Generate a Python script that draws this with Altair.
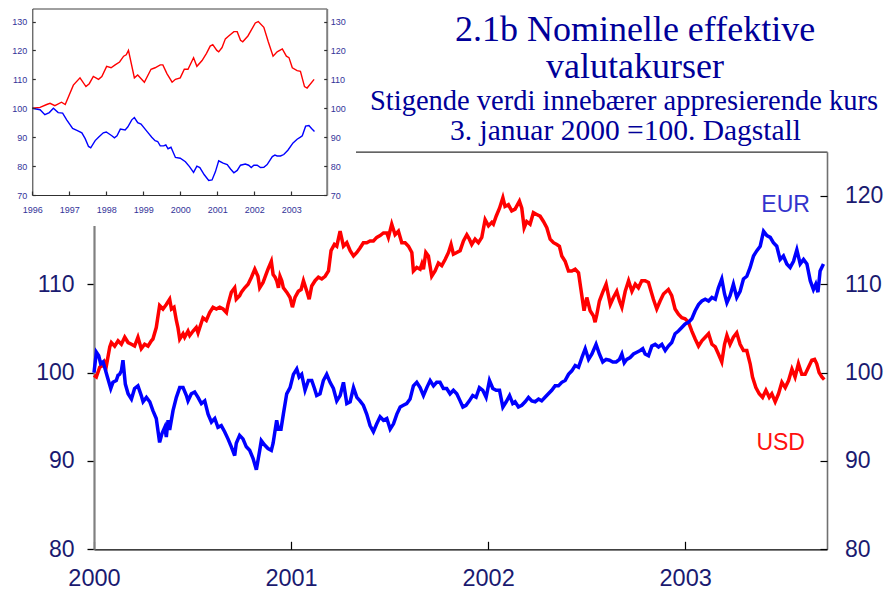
import altair as alt
import pandas as pd

# ---------------- data ----------------
# Main panel, daily index 3 Jan 2000 = 100 (x = decimal year)
usd_years = [
    2000.000, 2000.012, 2000.029, 2000.046, 2000.054, 2000.063, 2000.080, 2000.088, 2000.105, 2000.122,
    2000.139, 2000.156, 2000.173, 2000.190, 2000.206, 2000.223, 2000.240, 2000.257, 2000.274, 2000.291,
    2000.299, 2000.316, 2000.333, 2000.350, 2000.367, 2000.384, 2000.393, 2000.406, 2000.418, 2000.426,
    2000.435, 2000.452, 2000.460, 2000.477, 2000.486, 2000.503, 2000.519, 2000.528, 2000.553, 2000.570,
    2000.587, 2000.604, 2000.621, 2000.638, 2000.655, 2000.672, 2000.680, 2000.697, 2000.714, 2000.722,
    2000.739, 2000.748, 2000.765, 2000.782, 2000.799, 2000.816, 2000.832, 2000.841, 2000.858, 2000.883,
    2000.900, 2000.909, 2000.919, 2000.927, 2000.936, 2000.944, 2000.953, 2000.961, 2000.978, 2000.995,
    2001.007, 2001.020, 2001.037, 2001.051, 2001.063, 2001.080, 2001.092, 2001.105, 2001.122, 2001.139,
    2001.156, 2001.173, 2001.190, 2001.203, 2001.220, 2001.232, 2001.249, 2001.266, 2001.283, 2001.300,
    2001.317, 2001.334, 2001.350, 2001.367, 2001.384, 2001.401, 2001.418, 2001.435, 2001.452, 2001.469,
    2001.486, 2001.494, 2001.511, 2001.528, 2001.545, 2001.562, 2001.579, 2001.596, 2001.613, 2001.621,
    2001.638, 2001.655, 2001.664, 2001.672, 2001.684, 2001.697, 2001.714, 2001.731, 2001.748, 2001.765,
    2001.782, 2001.799, 2001.812, 2001.824, 2001.841, 2001.858, 2001.875, 2001.892, 2001.905, 2001.917,
    2001.934, 2001.951, 2001.968, 2001.985, 2002.002, 2002.019, 2002.027, 2002.041, 2002.058, 2002.075,
    2002.086, 2002.103, 2002.120, 2002.137, 2002.159, 2002.171, 2002.183, 2002.196, 2002.213, 2002.230,
    2002.247, 2002.264, 2002.281, 2002.298, 2002.315, 2002.332, 2002.349, 2002.362, 2002.374, 2002.391,
    2002.408, 2002.425, 2002.442, 2002.459, 2002.470, 2002.487, 2002.501, 2002.518, 2002.535, 2002.543,
    2002.552, 2002.565, 2002.582, 2002.599, 2002.611, 2002.620, 2002.636, 2002.653, 2002.667, 2002.679,
    2002.696, 2002.713, 2002.730, 2002.747, 2002.763, 2002.780, 2002.797, 2002.814, 2002.827, 2002.839,
    2002.856, 2002.873, 2002.890, 2002.915, 2002.932, 2002.949, 2002.966, 2002.983, 2003.000, 2003.017,
    2003.034, 2003.051, 2003.068, 2003.085, 2003.102, 2003.119, 2003.136, 2003.153, 2003.169, 2003.186,
    2003.200, 2003.212, 2003.228, 2003.245, 2003.262, 2003.279, 2003.296, 2003.313, 2003.330, 2003.342,
    2003.359, 2003.376, 2003.393, 2003.410, 2003.427, 2003.440, 2003.457, 2003.474, 2003.491, 2003.508,
    2003.525, 2003.542, 2003.558, 2003.575, 2003.592, 2003.609, 2003.626, 2003.643, 2003.657, 2003.668,
    2003.680, 2003.694, 2003.706,
]
usd_values = [
    99.7, 99.5, 100.6, 100.8, 101.2, 100.8, 102.9, 103.4, 103.0, 103.6,
    103.2, 104.0, 103.4, 103.2, 103.0, 104.0, 102.7, 103.2, 103.0, 103.6,
    103.8, 105.1, 107.6, 107.2, 107.7, 108.3, 107.2, 107.4, 105.9, 105.1,
    103.8, 104.4, 104.0, 104.7, 104.2, 104.7, 105.1, 104.5, 106.2, 105.9,
    106.8, 107.4, 107.2, 107.4, 107.2, 106.8, 107.7, 109.1, 109.6, 108.3,
    108.7, 109.1, 109.6, 110.0, 110.8, 111.7, 110.9, 109.6, 110.2, 111.7,
    112.6, 111.1, 110.8, 110.4, 109.6, 110.9, 110.4, 109.6, 109.1, 108.5,
    107.4, 108.5, 109.2, 109.4, 110.4, 109.2, 108.3, 109.8, 110.4, 110.8,
    110.6, 110.9, 111.5, 113.8, 114.5, 114.3, 116.0, 114.3, 114.7, 113.8,
    113.2, 113.6, 114.1, 114.7, 114.7, 114.9, 114.9, 115.3, 115.5, 115.8,
    115.8, 115.3, 116.8, 115.6, 116.0, 114.7, 114.7, 114.3, 113.6, 111.5,
    111.9, 111.7, 112.3, 111.7, 113.6, 113.2, 110.9, 111.5, 112.4, 112.1,
    112.8, 113.6, 114.5, 113.4, 113.6, 113.8, 114.9, 115.6, 115.1, 114.5,
    115.1, 114.7, 115.3, 117.3, 116.6, 117.0, 116.8, 117.7, 118.6, 119.8,
    118.8, 119.0, 118.3, 118.5, 119.4, 118.6, 116.4, 117.1, 116.8, 118.1,
    117.9, 117.7, 117.1, 116.4, 115.1, 114.7, 114.5, 114.3, 113.2, 112.6,
    111.5, 111.5, 111.7, 111.3, 109.6, 107.0, 108.5, 107.0, 106.4, 105.7,
    106.6, 108.1, 109.1, 110.0, 108.7, 107.7, 108.5, 109.2, 108.1, 107.4,
    109.2, 110.4, 109.2, 110.0, 109.6, 110.4, 110.4, 110.2, 109.2, 108.3,
    107.2, 108.1, 108.9, 109.4, 108.7, 107.2, 106.6, 106.2, 106.1, 105.7,
    104.7, 103.8, 103.0, 103.6, 104.0, 104.4, 103.2, 102.9, 102.1, 101.2,
    103.2, 104.2, 103.2, 104.0, 104.5, 103.2, 102.5, 102.5, 101.0, 99.5,
    98.3, 97.6, 97.2, 98.0, 97.2, 97.6, 96.7, 97.6, 98.9, 98.3,
    99.1, 100.4, 99.5, 101.0, 99.8, 99.8, 100.6, 101.4, 101.5, 101.0,
    100.0, 99.5, 99.2,
]
eur_years = [
    2000.000, 2000.012, 2000.024, 2000.034, 2000.046, 2000.054, 2000.068, 2000.085, 2000.096, 2000.113,
    2000.122, 2000.130, 2000.139, 2000.147, 2000.159, 2000.173, 2000.190, 2000.206, 2000.223, 2000.240,
    2000.249, 2000.266, 2000.283, 2000.299, 2000.316, 2000.333, 2000.345, 2000.359, 2000.367, 2000.376,
    2000.384, 2000.401, 2000.418, 2000.435, 2000.452, 2000.469, 2000.477, 2000.494, 2000.511, 2000.528,
    2000.545, 2000.562, 2000.579, 2000.596, 2000.613, 2000.629, 2000.646, 2000.663, 2000.680, 2000.697,
    2000.714, 2000.722, 2000.739, 2000.756, 2000.773, 2000.790, 2000.807, 2000.824, 2000.841, 2000.849,
    2000.866, 2000.883, 2000.900, 2000.909, 2000.927, 2000.936, 2000.949, 2000.961, 2000.978, 2000.995,
    2001.012, 2001.029, 2001.041, 2001.054, 2001.071, 2001.088, 2001.105, 2001.119, 2001.130, 2001.147,
    2001.164, 2001.181, 2001.198, 2001.215, 2001.232, 2001.249, 2001.266, 2001.283, 2001.300, 2001.317,
    2001.334, 2001.350, 2001.367, 2001.384, 2001.401, 2001.418, 2001.435, 2001.452, 2001.469, 2001.486,
    2001.503, 2001.520, 2001.537, 2001.554, 2001.570, 2001.587, 2001.604, 2001.621, 2001.638, 2001.655,
    2001.672, 2001.689, 2001.706, 2001.723, 2001.739, 2001.756, 2001.773, 2001.790, 2001.807, 2001.824,
    2001.841, 2001.858, 2001.872, 2001.888, 2001.905, 2001.922, 2001.939, 2001.956, 2001.973, 2001.990,
    2002.007, 2002.024, 2002.041, 2002.058, 2002.075, 2002.092, 2002.109, 2002.125, 2002.137, 2002.154,
    2002.171, 2002.188, 2002.205, 2002.222, 2002.239, 2002.256, 2002.272, 2002.289, 2002.306, 2002.323,
    2002.340, 2002.357, 2002.374, 2002.391, 2002.408, 2002.425, 2002.442, 2002.459, 2002.476, 2002.493,
    2002.510, 2002.527, 2002.548, 2002.565, 2002.582, 2002.599, 2002.616, 2002.633, 2002.650, 2002.667,
    2002.679, 2002.691, 2002.704, 2002.721, 2002.738, 2002.755, 2002.772, 2002.785, 2002.797, 2002.814,
    2002.831, 2002.848, 2002.865, 2002.882, 2002.899, 2002.915, 2002.932, 2002.949, 2002.966, 2002.983,
    2003.000, 2003.017, 2003.034, 2003.051, 2003.068, 2003.085, 2003.102, 2003.119, 2003.136, 2003.153,
    2003.169, 2003.186, 2003.200, 2003.212, 2003.228, 2003.245, 2003.262, 2003.279, 2003.296, 2003.313,
    2003.330, 2003.347, 2003.364, 2003.381, 2003.398, 2003.415, 2003.432, 2003.448, 2003.465, 2003.482,
    2003.499, 2003.516, 2003.533, 2003.550, 2003.567, 2003.584, 2003.601, 2003.618, 2003.635, 2003.651,
    2003.663, 2003.674, 2003.685, 2003.702,
]
eur_values = [
    100.0, 102.3, 101.9, 101.0, 101.2, 100.6, 99.5, 98.2, 98.9, 99.1,
    99.7, 99.8, 100.2, 101.4, 98.7, 97.6, 97.0, 98.2, 98.5, 97.4,
    96.7, 97.2, 96.7, 95.7, 94.8, 92.1, 93.1, 93.8, 92.7, 94.6,
    93.5, 95.7, 97.2, 98.3, 98.3, 97.4, 96.8, 97.6, 97.8, 97.2,
    96.5, 96.8, 95.3, 94.4, 94.8, 93.8, 94.0, 93.3, 92.5, 91.6,
    90.6, 92.0, 92.9, 92.5, 91.6, 91.2, 90.3, 89.0, 91.2, 92.3,
    91.8, 91.4, 91.2, 92.0, 94.6, 93.6, 93.6, 95.3, 97.6, 98.3,
    99.8, 100.4, 99.5, 99.8, 98.0, 99.1, 99.1, 98.2, 97.4, 97.6,
    99.1, 99.8, 98.9, 98.2, 96.8, 97.4, 98.9, 96.5, 96.7, 98.3,
    97.2, 96.8, 96.3, 95.3, 94.0, 93.3, 94.2, 95.0, 94.6, 94.8,
    93.6, 94.2, 95.3, 96.1, 96.3, 96.5, 97.0, 98.5, 98.9, 98.3,
    97.4, 98.3, 99.1, 98.5, 98.9, 98.9, 98.2, 98.2, 97.6, 98.0,
    97.6, 96.8, 96.1, 96.3, 96.8, 97.4, 97.2, 98.3, 98.0, 97.2,
    99.1, 98.2, 98.0, 98.0, 96.1, 96.7, 97.4, 96.5, 96.7, 96.1,
    96.3, 96.7, 97.2, 96.8, 96.7, 97.0, 96.8, 97.2, 97.6, 98.0,
    98.5, 98.5, 98.9, 99.1, 99.8, 100.2, 100.8, 100.6, 101.7, 102.7,
    101.5, 102.1, 103.2, 102.1, 101.2, 101.5, 101.4, 101.2, 101.2, 101.5,
    102.1, 101.1, 101.5, 101.7, 102.1, 102.3, 102.5, 102.7, 102.1, 101.9,
    103.0, 103.2, 102.9, 103.2, 102.5, 103.0, 103.4, 104.4, 104.7, 105.1,
    105.5, 105.7, 106.1, 107.0, 107.7, 108.1, 108.3, 108.1, 108.5, 108.3,
    109.6, 110.6, 108.9, 107.9, 108.7, 110.0, 108.5, 109.2, 110.6, 110.9,
    111.9, 113.2, 113.8, 114.3, 116.0, 115.5, 115.3, 114.7, 114.3, 112.8,
    113.2, 112.3, 111.9, 112.6, 113.9, 112.3, 112.8, 112.3, 110.4, 109.4,
    110.0, 109.1, 111.5, 112.3,
]

# Inset panel, 1996 = 100
inset_usd_years = [
    1996.00, 1996.21, 1996.39, 1996.48, 1996.61, 1996.79, 1996.89, 1997.11, 1997.29, 1997.45,
    1997.54, 1997.65, 1997.79, 1997.88, 1998.01, 1998.13, 1998.24, 1998.36, 1998.47, 1998.54,
    1998.60, 1998.76, 1998.85, 1999.03, 1999.21, 1999.32, 1999.46, 1999.53, 1999.64, 1999.78,
    1999.87, 2000.00, 2000.11, 2000.21, 2000.36, 2000.45, 2000.59, 2000.71, 2000.81, 2000.88,
    2000.99, 2001.04, 2001.13, 2001.22, 2001.31, 2001.45, 2001.54, 2001.63, 2001.69, 2001.83,
    2001.92, 2002.03, 2002.11, 2002.26, 2002.38, 2002.51, 2002.62, 2002.76, 2002.87, 2002.94,
    2003.03, 2003.16, 2003.25, 2003.36, 2003.43, 2003.62,
]
inset_usd_values = [
    100.0, 100.3, 101.3, 101.7, 100.9, 102.1, 101.3, 108.0, 110.5, 107.5,
    108.5, 111.0, 110.0, 111.0, 114.5, 114.0, 115.0, 116.0, 118.0, 118.5,
    120.0, 110.5, 111.5, 109.0, 113.5, 114.0, 115.0, 115.0, 112.0, 109.0,
    110.0, 110.5, 113.5, 113.5, 117.5, 114.5, 116.5, 119.0, 121.5, 122.0,
    120.0, 119.5, 121.0, 124.0, 125.0, 126.5, 126.5, 123.5, 123.0, 125.0,
    127.0, 129.5, 130.0, 128.0, 123.0, 118.0, 119.5, 120.5, 118.0, 117.5,
    114.0, 113.0, 112.8, 107.5, 107.0, 110.0,
]
inset_eur_years = [
    1996.00, 1996.21, 1996.34, 1996.46, 1996.57, 1996.70, 1996.82, 1996.93, 1997.09, 1997.22,
    1997.34, 1997.43, 1997.52, 1997.58, 1997.70, 1997.79, 1997.92, 1998.00, 1998.15, 1998.22,
    1998.29, 1998.38, 1998.51, 1998.58, 1998.69, 1998.76, 1998.85, 1998.94, 1999.10, 1999.23,
    1999.32, 1999.39, 1999.46, 1999.55, 1999.61, 1999.67, 1999.75, 1999.87, 2000.00, 2000.14,
    2000.25, 2000.36, 2000.45, 2000.53, 2000.65, 2000.77, 2000.86, 2000.95, 2001.04, 2001.16,
    2001.27, 2001.36, 2001.45, 2001.54, 2001.63, 2001.76, 2001.85, 2001.92, 2001.99, 2002.08,
    2002.17, 2002.26, 2002.35, 2002.49, 2002.56, 2002.62, 2002.71, 2002.80, 2002.91, 2003.05,
    2003.16, 2003.25, 2003.30, 2003.39, 2003.48, 2003.55, 2003.63,
]
inset_eur_values = [
    100.0, 99.5, 97.8, 98.5, 100.0, 98.5, 98.3, 96.0, 93.0, 92.3,
    91.5, 89.5, 86.8, 86.3, 88.8, 90.0, 91.5, 91.8, 90.5, 89.8,
    90.5, 92.8, 92.5, 93.5, 96.0, 96.8, 95.0, 94.5, 92.0, 90.0,
    88.8, 88.5, 87.0, 87.0, 87.3, 86.0, 86.5, 83.0, 82.7, 81.5,
    79.8, 77.8, 80.0, 79.5, 77.0, 75.0, 75.2, 78.0, 81.8, 81.0,
    80.5, 79.0, 77.7, 78.5, 80.3, 80.7, 80.3, 79.5, 80.3, 80.3,
    79.5, 79.6, 80.5, 83.3, 83.8, 83.5, 83.5, 84.0, 85.5, 88.0,
    89.3, 90.0, 90.5, 93.8, 94.0, 93.0, 92.0,
]

main_x_ticks = [2000, 2001, 2002, 2003]
main_y_ticks = [80, 90, 100, 110, 120]
main_left_labels = [80, 90, 100, 110]   # 120 on the left is hidden under the inset
inset_x_ticks = [1996, 1997, 1998, 1999, 2000, 2001, 2002, 2003]
inset_y_ticks = [70, 80, 90, 100, 110, 120, 130]

title_lines = ["2.1b Nominelle effektive", "valutakurser"]
subtitle_line1 = "Stigende verdi innebærer appresierende kurs"
subtitle_line2 = "3. januar 2000 =100. Dagstall"

label_names = ["EUR", "USD"]
label_years = [2003.51, 2003.485]
label_values = [119.0, 92.0]

series_names = ["USD", "EUR"]
series_colors = ["#ff0000", "#0000ff"]
label_colors = ["#3333cc", "#ff1010"]

assert len(usd_years) == len(usd_values)
assert len(eur_years) == len(eur_values)
assert len(inset_usd_years) == len(inset_usd_values)
assert len(inset_eur_years) == len(inset_eur_values)

main_df = pd.concat([
    pd.DataFrame({"year": usd_years, "value": usd_values, "series": "USD"}),
    pd.DataFrame({"year": eur_years, "value": eur_values, "series": "EUR"}),
], ignore_index=True)
inset_df = pd.concat([
    pd.DataFrame({"year": inset_usd_years, "value": inset_usd_values, "series": "USD"}),
    pd.DataFrame({"year": inset_eur_years, "value": inset_eur_values, "series": "EUR"}),
], ignore_index=True)
labels_df = pd.DataFrame({"series": label_names, "year": label_years, "value": label_values})
one_row = pd.DataFrame({"k": [0]})

# ---------------- layout ----------------
W, H = 876, 582
SANS = "Liberation Sans"
SERIF = "Liberation Serif"
NAVY = "#1a1a70"
INSET_TXT = "#333399"
TITLE = "#000099"

# main panel geometry (plot coordinates)
MX0, MX1 = 86, 819
MY0, MY1 = 541.3, 143.7
# inset geometry
IX0, IX1 = 24.3, 318.7
IY0, IY1 = 187, 0.5

MX = alt.Scale(domain=[2000, 2003.72], range=[MX0, MX1], nice=False, zero=False)
MY = alt.Scale(domain=[80, 125], range=[MY0, MY1], nice=False, zero=False)
IX = alt.Scale(domain=[1996, 2003.96], range=[IX0, IX1], nice=False, zero=False)
IY = alt.Scale(domain=[70, 134.5], range=[IY0, IY1], nice=False, zero=False)
line_color = alt.Color("series:N", scale=alt.Scale(domain=series_names, range=series_colors), legend=None)


def axis(**kw):
    base = dict(title=None, grid=False, labelFlush=False, labelOverlap=False, labelFont=SANS)
    base.update(kw)
    return alt.Axis(**base)


def ticks_only(orient, offset, values, size, z=0, color="#000000"):
    return axis(orient=orient, offset=offset, values=values, labels=False, domain=False,
                ticks=True, tickSize=size, tickColor=color, tickWidth=1.2, zindex=z)


def domain_only(orient, offset, color, width, z=0):
    return axis(orient=orient, offset=offset, labels=False, ticks=False, tickSize=0,
                domain=True, domainColor=color, domainWidth=width, zindex=z)


# main lines with bottom x axis and left y axis
main_lines = alt.Chart(main_df).mark_line(strokeWidth=3.5).encode(
    x=alt.X("year:Q", scale=MX, axis=axis(
        orient="bottom", offset=MY0 - H, values=main_x_ticks, format="d",
        ticks=False, tickSize=0, domain=True, domainColor="#000000", domainWidth=1.3,
        labelFontSize=23.5, labelColor=NAVY, labelPadding=17)),
    y=alt.Y("value:Q", scale=MY, axis=axis(
        orient="left", offset=-MX0, values=main_left_labels, ticks=True, tickSize=7,
        tickColor="#000000", tickWidth=1.3, domain=True, domainColor="#808080", domainWidth=2.2,
        labelFontSize=23, labelColor=NAVY, labelPadding=13)),
    color=line_color,
)

# invisible: inward x ticks + right y axis with labels
main_aux1 = alt.Chart(main_df).mark_point(opacity=0).encode(
    x=alt.X("year:Q", scale=MX, axis=ticks_only("top", -MY0, main_x_ticks, 8)),
    y=alt.Y("value:Q", scale=MY, axis=axis(
        orient="right", offset=MX1 - W, values=main_y_ticks, ticks=False, tickSize=0,
        domain=True, domainColor="#707070", domainWidth=1.6,
        labelFontSize=23, labelColor=NAVY, labelPadding=17.5)),
)

# invisible: top frame line + inward ticks on right axis
main_aux2 = alt.Chart(main_df).mark_point(opacity=0).encode(
    x=alt.X("year:Q", scale=MX, axis=domain_only("top", -MY1, "#303030", 1.3)),
    y=alt.Y("value:Q", scale=MY, axis=ticks_only("left", -MX1, main_y_ticks, 7)),
)

# series labels
series_text = alt.Chart(labels_df).mark_text(font=SANS, fontSize=23, align="center",
                                             baseline="middle").encode(
    x=alt.X("year:Q", scale=MX, axis=None),
    y=alt.Y("value:Q", scale=MY, axis=None),
    text="series:N",
    color=alt.Color("series:N", scale=alt.Scale(domain=label_names, range=label_colors), legend=None),
)

# white backing of the inset
inset_bg = alt.Chart(one_row).mark_rect(color="white").encode(
    x=alt.value(-8), x2=alt.value(348), y=alt.value(-8), y2=alt.value(218)
)

# inset lines with bottom x axis and left y axis
inset_lines = alt.Chart(inset_df).mark_line(strokeWidth=1.4).encode(
    x=alt.X("year:Q", scale=IX, axis=axis(
        orient="bottom", offset=IY0 - H, values=inset_x_ticks, format="d",
        ticks=False, tickSize=0, domain=True, domainColor="#303030", domainWidth=1,
        labelFontSize=9, labelColor=INSET_TXT, labelPadding=10.5, zindex=1)),
    y=alt.Y("value:Q", scale=IY, axis=axis(
        orient="left", offset=-IX0, values=inset_y_ticks, ticks=False, tickSize=0,
        domain=True, domainColor="#303030", domainWidth=1,
        labelFontSize=9, labelColor=INSET_TXT, labelPadding=5.5, zindex=1)),
    color=line_color,
)

inset_aux1 = alt.Chart(inset_df).mark_point(opacity=0).encode(
    x=alt.X("year:Q", scale=IX, axis=ticks_only("top", -IY0, inset_x_ticks, 4, z=1, color="#303030")),
    y=alt.Y("value:Q", scale=IY, axis=axis(
        orient="right", offset=IX1 - W, values=inset_y_ticks, ticks=False, tickSize=0,
        domain=True, domainColor="#808080", domainWidth=2,
        labelFontSize=9, labelColor=INSET_TXT, labelPadding=3.5, zindex=1)),
)

inset_aux2 = alt.Chart(inset_df).mark_point(opacity=0).encode(
    x=alt.X("year:Q", scale=IX, axis=domain_only("top", -IY1, "#404040", 1, z=1)),
    y=alt.Y("value:Q", scale=IY, axis=ticks_only("right", IX0 - W, inset_y_ticks, 3, z=1, color="#303030")),
)

inset_aux3 = alt.Chart(inset_df).mark_point(opacity=0).encode(
    x=alt.X("year:Q", scale=IX, axis=None),
    y=alt.Y("value:Q", scale=IY, axis=ticks_only("left", -IX1, inset_y_ticks, 3, z=1, color="#303030")),
)

# titles
title_text = alt.Chart(one_row).mark_text(
    font=SERIF, fontSize=36, color=TITLE, align="center", baseline="alphabetic", lineHeight=37
).encode(x=alt.value(627), y=alt.value(32.5), text=alt.value(title_lines))

subtitle_text1 = alt.Chart(one_row).mark_text(
    font=SERIF, fontSize=28.5, color=TITLE, align="center", baseline="alphabetic"
).encode(x=alt.value(616), y=alt.value(102), text=alt.value(subtitle_line1))

subtitle_text2 = alt.Chart(one_row).mark_text(
    font=SERIF, fontSize=29.5, color=TITLE, align="center", baseline="alphabetic"
).encode(x=alt.value(617.5), y=alt.value(132), text=alt.value(subtitle_line2))

chart = alt.layer(
    main_lines, main_aux1, main_aux2, series_text,
    inset_bg, inset_lines, inset_aux1, inset_aux2, inset_aux3,
    title_text, subtitle_text1, subtitle_text2,
).resolve_scale(
    x="independent", y="independent", color="independent"
).properties(
    width=W, height=H, padding=0,
    autosize=alt.AutoSizeParams(type="none"),
).configure_view(stroke=None)

chart.save("out.html", embed_options={"renderer": "svg", "actions": False})
